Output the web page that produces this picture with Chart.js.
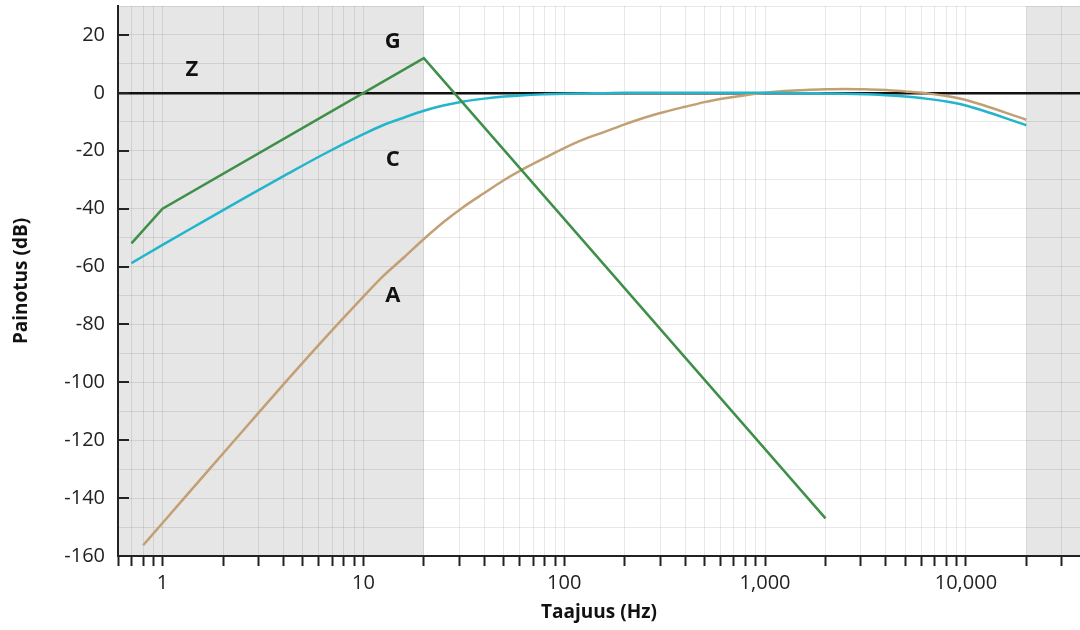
<!DOCTYPE html>
<html>
<head>
<meta charset="utf-8">
<script src="https://cdn.jsdelivr.net/npm/chart.js@4"></script>
<style>
  html, body { margin: 0; padding: 0; background: #fff; }
  #wrap { width: 1080px; height: 630px; }
</style>
</head>
<body>
<div id="wrap"><canvas id="chart" width="1080" height="630"></canvas></div>
<script>
// Frequency ticks on the log axis (gridlines at every minor step)
const xTickValues = [
  0.6, 0.7, 0.8, 0.9,
  1, 2, 3, 4, 5, 6, 7, 8, 9,
  10, 20, 30, 40, 50, 60, 70, 80, 90,
  100, 200, 300, 400, 500, 600, 700, 800, 900,
  1000, 2000, 3000, 4000, 5000, 6000, 7000, 8000, 9000,
  10000, 20000, 30000
];
const xLabelValues = [1, 10, 100, 1000, 10000];

// G weighting
const gFreq = [0.7, 1, 20, 2000];
const gDb = [-52, -40, 12, -147];

// C weighting
const cFreq = [0.7, 1, 1.6, 2.5, 4, 6.3, 10, 12.5, 16, 20, 25, 31.5, 40, 50, 63, 80,
  100, 125, 160, 200, 315, 500, 800, 1000, 1600, 2000, 2500, 3150, 4000, 5000,
  6300, 8000, 10000, 20000];
const cDb = [-58.8, -52.5, -44.4, -36.7, -28.8, -21.3, -14.3, -11.2, -8.5, -6.2, -4.4, -3.0, -2.0, -1.3, -0.8, -0.5,
  -0.3, -0.2, -0.1, 0, 0, 0, 0, 0, -0.1, -0.2, -0.3, -0.5, -0.8, -1.3,
  -2.0, -3.0, -4.4, -11.2];

// A weighting
const aFreq = [0.8, 1, 1.6, 2.5, 4, 6.3, 10, 12.5, 16, 20, 25, 31.5, 40, 50, 63, 80,
  100, 125, 160, 200, 250, 315, 400, 500, 630, 800, 1000, 1250, 1600, 2000,
  2500, 3150, 4000, 5000, 6300, 8000, 10000, 20000];
const aDb = [-156.3, -148.6, -132.3, -116.9, -100.7, -85.4, -70.4, -63.4, -56.7, -50.5, -44.7, -39.4, -34.6, -30.2, -26.2, -22.5,
  -19.1, -16.1, -13.4, -10.9, -8.6, -6.6, -4.8, -3.2, -1.9, -0.8, 0, 0.6, 1.0, 1.2,
  1.3, 1.2, 1.0, 0.5, -0.1, -1.1, -2.5, -9.3];

// Curve names
const curveNames = ['Z', 'G', 'C', 'A'];

// Shaded (out of audible range) bands in Hz
const shadeBands = [[0.6, 20], [20000, 37000]];

function toPoints(xs, ys) {
  return xs.map((x, i) => ({ x: x, y: ys[i] }));
}

// Shaded bands behind the grid
const shadePlugin = {
  id: 'shade',
  beforeDraw(chart) {
    const { ctx, chartArea, scales } = chart;
    ctx.save();
    ctx.fillStyle = '#e6e6e6';
    shadeBands.forEach(([from, to]) => {
      const x1 = scales.x.getPixelForValue(from);
      const x2 = scales.x.getPixelForValue(to);
      ctx.fillRect(x1, chartArea.top, x2 - x1, chartArea.bottom - chartArea.top);
    });
    ctx.restore();
  }
};

// Inward y ticks + curve labels
const labelPos = { Z: [1.4, 8], G: [14, 17.5], C: [14, -23], A: [14, -70] };
const extrasPlugin = {
  id: 'extras',
  afterDraw(chart) {
    const { ctx, chartArea, scales } = chart;
    ctx.save();
    ctx.strokeStyle = '#222';
    ctx.lineWidth = 2;
    scales.y.ticks.forEach(t => {
      if (t.value % 20 !== 0) return;
      const y = Math.round(scales.y.getPixelForValue(t.value));
      ctx.beginPath();
      ctx.moveTo(chartArea.left, y);
      ctx.lineTo(chartArea.left + 11, y);
      ctx.stroke();
    });
    ctx.fillStyle = '#111';
    ctx.font = 'bold 22px "Open Sans", sans-serif';
    ctx.textAlign = 'center';
    ctx.textBaseline = 'middle';
    curveNames.forEach(name => {
      const [fx, fy] = labelPos[name];
      ctx.fillText(name, scales.x.getPixelForValue(fx), scales.y.getPixelForValue(fy));
    });
    ctx.restore();
  }
};

Chart.defaults.font.family = '"Open Sans", sans-serif';
Chart.defaults.color = '#222';

new Chart(document.getElementById('chart').getContext('2d'), {
  type: 'line',
  data: {
    datasets: [
      { label: 'G', data: toPoints(gFreq, gDb), borderColor: '#3e8f48', borderWidth: 2.5, tension: 0 },
      { label: 'C', data: toPoints(cFreq, cDb), borderColor: '#22b5cb', borderWidth: 2.5, cubicInterpolationMode: 'monotone' },
      { label: 'A', data: toPoints(aFreq, aDb), borderColor: '#c3a074', borderWidth: 2.5, cubicInterpolationMode: 'monotone' }
    ]
  },
  options: {
    responsive: false,
    animation: false,
    layout: { padding: { top: 6, right: 0, left: 0, bottom: 0 } },
    elements: {
      point: { radius: 0 }
    },
    plugins: {
      legend: { display: false },
      tooltip: { enabled: false }
    },
    scales: {
      x: {
        type: 'logarithmic',
        min: 0.6,
        max: 37000,
        afterBuildTicks: (scale) => {
          scale.ticks = xTickValues.map(v => ({ value: v }));
        },
        afterFit: (scale) => {
          scale.height = 74;
          scale.paddingLeft = 0;
          scale.paddingRight = 0;
        },
        grid: {
          color: 'rgba(0,0,0,0.09)',
          lineWidth: 1,
          drawTicks: true,
          tickLength: 10,
          tickColor: '#222',
          tickWidth: 2
        },
        border: { color: '#222', width: 2 },
        ticks: {
          autoSkip: false,
          maxRotation: 0,
          padding: 5,
          font: { size: 20 },
          color: '#222',
          callback: (value) => xLabelValues.includes(value) ? value.toLocaleString('en-US') : ''
        },
        title: {
          display: true,
          text: 'Taajuus (Hz)',
          font: { size: 19, weight: 'bold' },
          color: '#111',
          padding: { top: 2, bottom: 6 }
        }
      },
      y: {
        min: -160,
        max: 30,
        afterFit: (scale) => {
          scale.width = 118;
          scale.paddingTop = 0;
          scale.paddingBottom = 0;
        },
        grid: {
          color: (ctx) => ctx.tick && ctx.tick.value === 0 ? '#111' : 'rgba(0,0,0,0.09)',
          lineWidth: (ctx) => ctx.tick && ctx.tick.value === 0 ? 2.5 : 1,
          drawTicks: false
        },
        border: { color: '#222', width: 2 },
        ticks: {
          stepSize: 10,
          padding: 13,
          font: { size: 20 },
          color: '#222',
          callback: (value) => value % 20 === 0 ? String(value) : ''
        },
        title: {
          display: true,
          text: 'Painotus (dB)',
          font: { size: 19, weight: 'bold' },
          color: '#111',
          padding: { top: 10, bottom: 0 }
        }
      }
    }
  },
  plugins: [shadePlugin, extrasPlugin]
});
</script>
</body>
</html>
